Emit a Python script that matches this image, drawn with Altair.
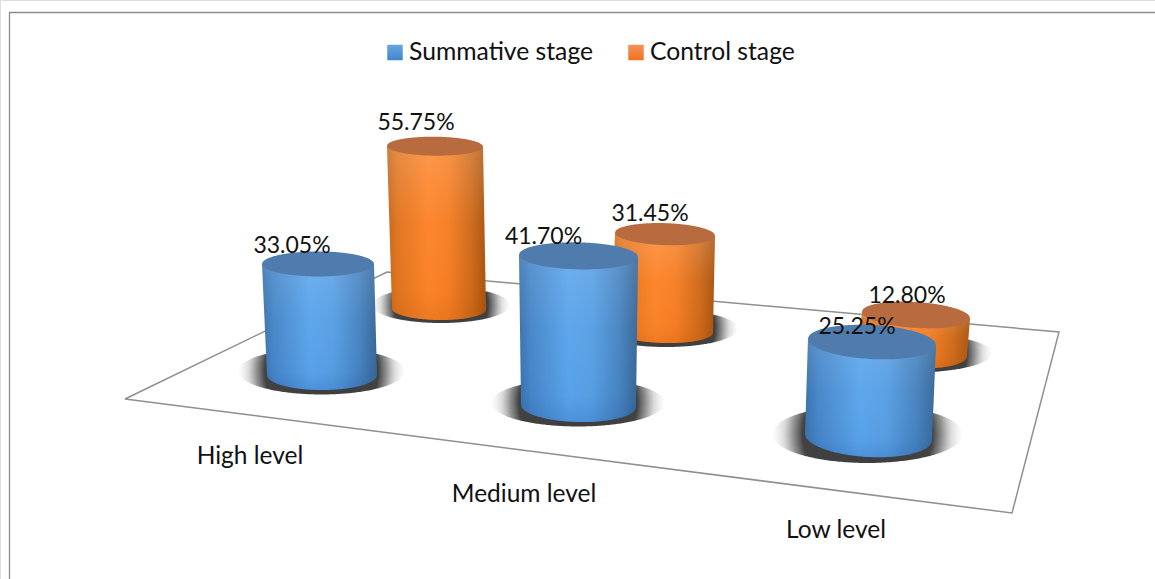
import altair as alt
import numpy as np
import pandas as pd

# Chart values
levels = ["High level", "Medium level", "Low level"]
stages = ["Summative stage", "Control stage"]
summative = [33.05, 41.70, 25.25]
control = [55.75, 31.45, 12.80]

FONT = "Lato"
W, H = 1155, 579
VALUE_SIZE = 23
CAPTION_SIZE = 24.5
LEGEND_SIZE = 24.7

# Perspective layout of each cylinder on the floor plane, in drawing order (back row first).
# base = centre of the base ellipse, scale = pixels per percentage point,
# rb/rt = base and top half-widths, ryb/ryt = half-heights of the ellipses,
# lean = sideways shift of the top, tilt = shear of the ellipses,
# sh = shadow extent left/right/up/down, lab = label offset from the top centre.
layout = [
    dict(s=1, c=0, base=(439, 309), scale=2.92, rb=47, rt=48, ryb=11, ryt=9.5, lean=-4, tilt=0.01,
         sh=(372, 510, 287, 323), lab=(-19, -23)),
    dict(s=1, c=1, base=(662.5, 331), scale=3.08, rb=50.5, rt=50, ryb=12, ryt=11, lean=2.5, tilt=0.03,
         sh=(594, 738, 310, 347), lab=(-15, -20)),
    dict(s=1, c=2, base=(912.5, 353), scale=2.97, rb=54.5, rt=54, ryb=15, ryt=13, lean=3.5, tilt=0.06,
         sh=(834, 992, 334, 372.5), lab=(-9, -19)),
    dict(s=0, c=0, base=(322, 375), scale=3.36, rb=55, rt=56, ryb=15, ryt=12.5, lean=-4, tilt=0.0,
         sh=(238, 405, 348, 394.5), lab=(-26, -18)),
    dict(s=0, c=1, base=(578.5, 406), scale=3.60, rb=57.5, rt=59.5, ryb=16, ryt=13.5, lean=0, tilt=0.02,
         sh=(491, 665, 379, 426.5), lab=(-35, -19)),
    dict(s=0, c=2, base=(868.5, 437), scale=3.76, rb=63.5, rt=64, ryb=20, ryt=17, lean=3.5, tilt=0.05,
         sh=(772, 963, 405, 463), lab=(-15, -15)),
]

# Frame and floor outline
frame_x, frame_y = [9.5, 9.5, 1155], [579, 12.5, 12.5]
floor_x = [125, 1012, 1059, 387, 125]
floor_y = [399, 513, 332, 272, 399]

# Category captions under the floor, legend placement
level_pos = [(250, 457), (524, 495), (836, 531)]
legend_swatch = [(395, 52.5), (636, 52.5)]
legend_text = [(409, 53), (650, 53)]

X = alt.X("x:Q", scale=alt.Scale(domain=[0, W], range=[0, W], nice=False, zero=False), axis=None)
Y = alt.Y("y:Q", scale=alt.Scale(domain=[0, H], range=[0, H], nice=False, zero=False), axis=None)


def linear(stops, horizontal=True):
    return alt.Gradient(
        gradient="linear",
        stops=[alt.GradientStop(color=c, offset=o) for o, c in stops],
        x1=0, y1=0, x2=1 if horizontal else 0, y2=0 if horizontal else 1,
    )


def radial(stops):
    return alt.Gradient(
        gradient="radial",
        stops=[alt.GradientStop(color=c, offset=o) for o, c in stops],
        x1=0.5, y1=0.5, x2=0.5, y2=0.5, r1=0, r2=0.5,
    )


BODY = {
    0: linear([(0, "#3a72ae"), (0.1, "#4686c8"), (0.42, "#5ba5ec"), (0.62, "#589fe3"), (0.85, "#4783c0"), (1, "#376796")]),
    1: linear([(0, "#c5641a"), (0.1, "#e0741f"), (0.42, "#fd8429"), (0.62, "#f67e24"), (0.85, "#cf6a1a"), (1, "#a85410")]),
}
SHEEN = {
    0: linear([(0, "rgba(255,255,255,0.12)"), (0.45, "rgba(255,255,255,0.02)"), (0.85, "rgba(0,50,130,0.03)"), (1, "rgba(0,50,130,0.16)")], horizontal=False),
    1: linear([(0, "rgba(255,255,255,0.17)"), (0.45, "rgba(255,255,255,0.02)"), (0.85, "rgba(160,70,0,0.03)"), (1, "rgba(160,70,0,0.16)")], horizontal=False),
}
TOP = {0: "#4f7cac", 1: "#b96b40"}
SWATCH = {
    0: linear([(0, "#6aa5e0"), (1, "#3f86cc")], horizontal=False),
    1: linear([(0, "#f4925a"), (1, "#ee7420")], horizontal=False),
}
SHADOW = radial([(0, "rgba(50,50,50,0.95)"), (0.68, "rgba(50,50,50,0.92)"), (0.78, "rgba(80,80,80,0.62)"), (0.88, "rgba(120,120,120,0.25)"), (1, "rgba(170,170,170,0)")])


def ellipse_band(cx, cy, rx, ry, tilt, n=120):
    """Upper and lower edge of a sheared ellipse over a shared x grid."""
    t = np.linspace(-1, 1, n)
    t = np.sign(t) * np.abs(t) ** 0.7
    half = ry * np.sqrt(np.clip(1 - t ** 2, 0, 1))
    x = cx + rx * t
    mid = cy + tilt * rx * t
    return x, mid - half, mid + half


def band_chart(x, y1, y2, **mark):
    df = pd.DataFrame({"x": x, "y": y1, "y2": y2})
    return alt.Chart(df).mark_area(orient="vertical", **mark).encode(X, Y, y2="y2:Q")


def cylinder_body(cx_b, cy_b, rb, ryb, cx_t, cy_t, rt, tilt):
    arc_x, _, arc_low = ellipse_band(cx_b, cy_b, rb, ryb, tilt)
    ax, ay = cx_t - rt, cy_t - tilt * rt
    dx, dy = cx_t + rt, cy_t + tilt * rt
    bx, by = arc_x[0], arc_low[0]
    ex, ey = arc_x[-1], arc_low[-1]

    up = ([(bx, by)] if bx < ax else []) + [(ax, ay), (dx, dy)] + ([(ex, ey)] if ex > dx else [])
    low = ([(ax, ay)] if ax < bx else []) + list(zip(arc_x, arc_low)) + ([(dx, dy)] if dx > ex else [])
    up, low = np.array(up), np.array(low)
    grid = np.unique(np.concatenate([up[:, 0], low[:, 0]]))
    return grid, np.interp(grid, up[:, 0], up[:, 1]), np.interp(grid, low[:, 0], low[:, 1])


series = [summative, control]
layers = []

# Frame and floor
layers.append(
    alt.Chart(pd.DataFrame({"x": frame_x, "y": frame_y, "o": range(3)}))
    .mark_line(color="#8c8c8c", strokeWidth=1.3).encode(X, Y, order="o:Q")
)
layers.append(
    alt.Chart(pd.DataFrame({"x": floor_x, "y": floor_y, "o": range(5)}))
    .mark_line(color="#8f8f8f", strokeWidth=1.5).encode(X, Y, order="o:Q")
)

labels = []
for item in layout:
    value = series[item["s"]][item["c"]]
    cx_b, cy_b = item["base"]
    cx_t = cx_b + item["lean"]
    cy_t = cy_b - value * item["scale"]
    tilt = item["tilt"]

    # Soft floor shadow
    x0, x1, y0, y1 = item["sh"]
    sx, sy1, sy2 = ellipse_band((x0 + x1) / 2, (y0 + y1) / 2, (x1 - x0) / 2, (y1 - y0) / 2, 0)
    layers.append(band_chart(sx, sy1, sy2, fill=SHADOW))

    # Side wall with a vertical sheen
    gx, gy1, gy2 = cylinder_body(cx_b, cy_b, item["rb"], item["ryb"], cx_t, cy_t, item["rt"], tilt)
    layers.append(band_chart(gx, gy1, gy2, fill=BODY[item["s"]]))
    layers.append(band_chart(gx, gy1, gy2, fill=SHEEN[item["s"]]))

    # Top face
    tx, ty1, ty2 = ellipse_band(cx_t, cy_t, item["rt"], item["ryt"], tilt)
    layers.append(band_chart(tx, ty1, ty2, fill=TOP[item["s"]]))

    labels.append({"x": cx_t + item["lab"][0], "y": cy_t + item["lab"][1], "t": f"{value:.2f}%"})

text_kw = dict(font=FONT, color="#111111", baseline="middle")

layers.append(
    alt.Chart(pd.DataFrame(labels)).mark_text(align="center", fontSize=VALUE_SIZE, **text_kw).encode(X, Y, text="t:N")
)

captions = pd.DataFrame({"x": [p[0] for p in level_pos], "y": [p[1] for p in level_pos], "t": levels})
layers.append(
    alt.Chart(captions).mark_text(align="center", fontSize=CAPTION_SIZE, **text_kw).encode(X, Y, text="t:N")
)

legend_labels = pd.DataFrame({"x": [p[0] for p in legend_text], "y": [p[1] for p in legend_text], "t": stages})
layers.append(
    alt.Chart(legend_labels).mark_text(align="left", fontSize=LEGEND_SIZE, **text_kw).encode(X, Y, text="t:N")
)

for i, (sx, sy) in enumerate(legend_swatch):
    swatch = pd.DataFrame({"x": [sx], "y": [sy]})
    layers.append(
        alt.Chart(swatch).mark_square(size=240, fill=SWATCH[i], opacity=1).encode(X, Y)
    )

chart = (
    alt.layer(*layers)
    .properties(width=W, height=H, padding=0, autosize=alt.AutoSizeParams(type="none"))
    .configure_view(stroke=None)
    .configure(background="white")
)

chart.save("out.html", embed_options={"renderer": "svg", "actions": False})
